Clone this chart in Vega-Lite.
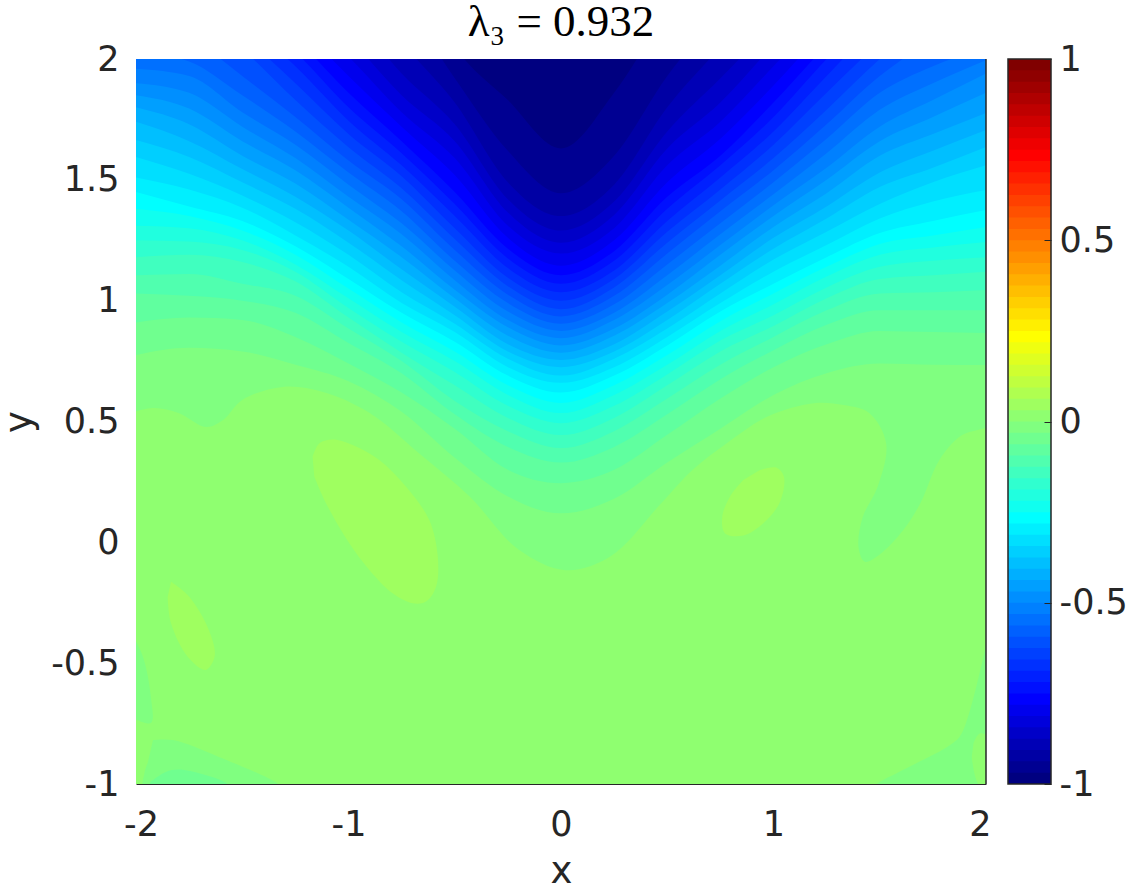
{"$schema":"https://vega.github.io/schema/vega-lite/v6.json","background":"white","padding":{"left":0,"top":0,"right":0,"bottom":0},"spacing":15,
"config":{"view":{"stroke":null},"axis":{"labelFont":"DejaVu Sans","labelFontSize":35,"labelColor":"#262626","titleFont":"DejaVu Sans","titleFontSize":37,"titleFontWeight":"normal","titleColor":"#262626","grid":false}},
"datasets":{
"polys":[
{"p":"base","r":33,"k":0,"x":-2.5,"y":-1.5},{"p":"base","r":33,"k":1,"x":2.5,"y":-1.5},{"p":"base","r":33,"k":2,"x":2.5,"y":2.5},{"p":"base","r":33,"k":3,"x":-2.5,"y":2.5},
{"p":"a","r":32,"k":0,"x":-2.05,"y":0.53},{"p":"a","r":32,"k":1,"x":-1.915,"y":0.556},{"p":"a","r":32,"k":2,"x":-1.8,"y":0.535},{"p":"a","r":32,"k":3,"x":-1.67,"y":0.477},{"p":"a","r":32,"k":4,"x":-1.59,"y":0.506},{"p":"a","r":32,"k":5,"x":-1.5,"y":0.589},{"p":"a","r":32,"k":6,"x":-1.31,"y":0.643},{"p":"a","r":32,"k":7,"x":-1.12,"y":0.622},{"p":"a","r":32,"k":8,"x":-0.9,"y":0.535},{"p":"a","r":32,"k":9,"x":-0.67,"y":0.37},{"p":"a","r":32,"k":10,"x":-0.43,"y":0.19},{"p":"a","r":32,"k":11,"x":-0.2,"y":-0.03},{"p":"a","r":32,"k":12,"x":0.02,"y":-0.115},{"p":"a","r":32,"k":13,"x":0.23,"y":-0.06},{"p":"a","r":32,"k":14,"x":0.47,"y":0.16},{"p":"a","r":32,"k":15,"x":0.62,"y":0.3},{"p":"a","r":32,"k":16,"x":0.78,"y":0.41},{"p":"a","r":32,"k":17,"x":0.97,"y":0.52},{"p":"a","r":32,"k":18,"x":1.19,"y":0.576},{"p":"a","r":32,"k":19,"x":1.33,"y":0.568},{"p":"a","r":32,"k":20,"x":1.45,"y":0.535},{"p":"a","r":32,"k":21,"x":1.53,"y":0.41},{"p":"a","r":32,"k":22,"x":1.49,"y":0.23},{"p":"a","r":32,"k":23,"x":1.42,"y":0.105},{"p":"a","r":32,"k":24,"x":1.4,"y":-0.02},{"p":"a","r":32,"k":25,"x":1.43,"y":-0.08},{"p":"a","r":32,"k":26,"x":1.5,"y":-0.05},{"p":"a","r":32,"k":27,"x":1.61,"y":0.05},{"p":"a","r":32,"k":28,"x":1.69,"y":0.16},{"p":"a","r":32,"k":29,"x":1.78,"y":0.34},{"p":"a","r":32,"k":30,"x":1.88,"y":0.44},{"p":"a","r":32,"k":31,"x":2.05,"y":0.51},{"p":"a","r":32,"k":32,"x":2.05,"y":1.2},{"p":"a","r":32,"k":33,"x":-2.05,"y":1.2},
{"p":"ls","r":32,"k":0,"x":-2.03,"y":-0.36},{"p":"ls","r":32,"k":1,"x":-1.967,"y":-0.474},{"p":"ls","r":32,"k":2,"x":-1.93,"y":-0.64},{"p":"ls","r":32,"k":3,"x":-1.93,"y":-0.748},{"p":"ls","r":32,"k":4,"x":-2.03,"y":-0.72},
{"p":"bl","r":32,"k":0,"x":-1.92,"y":-0.818},{"p":"bl","r":32,"k":1,"x":-1.826,"y":-0.818},{"p":"bl","r":32,"k":2,"x":-1.61,"y":-0.888},{"p":"bl","r":32,"k":3,"x":-1.33,"y":-1.0},{"p":"bl","r":32,"k":4,"x":-1.3,"y":-1.03},{"p":"bl","r":32,"k":5,"x":-1.96,"y":-1.03},{"p":"bl","r":32,"k":6,"x":-1.96,"y":-0.954},{"p":"bl","r":32,"k":7,"x":-1.945,"y":-0.913},
{"p":"br","r":32,"k":0,"x":2.03,"y":-0.3},{"p":"br","r":32,"k":1,"x":1.886,"y":-0.79},{"p":"br","r":32,"k":2,"x":1.831,"y":-0.839},{"p":"br","r":32,"k":3,"x":1.642,"y":-0.928},{"p":"br","r":32,"k":4,"x":1.486,"y":-1.0},{"p":"br","r":32,"k":5,"x":1.45,"y":-1.03},{"p":"br","r":32,"k":6,"x":2.03,"y":-1.03},
{"p":"bs","r":33,"k":0,"x":1.941,"y":-0.832},{"p":"bs","r":33,"k":1,"x":1.972,"y":-0.79},{"p":"bs","r":33,"k":2,"x":2.03,"y":-0.82},{"p":"bs","r":33,"k":3,"x":2.03,"y":-1.03},{"p":"bs","r":33,"k":4,"x":1.964,"y":-1.0},{"p":"bs","r":33,"k":5,"x":1.933,"y":-0.887},
{"p":"bp","r":31,"k":0,"x":-1.93,"y":-0.99},{"p":"bp","r":31,"k":1,"x":-1.86,"y":-0.95},{"p":"bp","r":31,"k":2,"x":-1.8,"y":-0.94},{"p":"bp","r":31,"k":3,"x":-1.685,"y":-0.96},{"p":"bp","r":31,"k":4,"x":-1.57,"y":-1.0},{"p":"bp","r":31,"k":5,"x":-1.55,"y":-1.03},{"p":"bp","r":31,"k":6,"x":-1.95,"y":-1.03},
{"p":"i1","r":34,"k":0,"x":-1.169,"y":0.354},{"p":"i1","r":34,"k":1,"x":-1.137,"y":0.41},{"p":"i1","r":34,"k":2,"x":-1.074,"y":0.426},{"p":"i1","r":34,"k":3,"x":-0.98,"y":0.403},{"p":"i1","r":34,"k":4,"x":-0.855,"y":0.341},{"p":"i1","r":34,"k":5,"x":-0.729,"y":0.23},{"p":"i1","r":34,"k":6,"x":-0.62,"y":0.092},{"p":"i1","r":34,"k":7,"x":-0.58,"y":-0.059},{"p":"i1","r":34,"k":8,"x":-0.588,"y":-0.184},{"p":"i1","r":34,"k":9,"x":-0.635,"y":-0.245},{"p":"i1","r":34,"k":10,"x":-0.698,"y":-0.252},{"p":"i1","r":34,"k":11,"x":-0.792,"y":-0.211},{"p":"i1","r":34,"k":12,"x":-0.902,"y":-0.114},{"p":"i1","r":34,"k":13,"x":-0.996,"y":-0.004},{"p":"i1","r":34,"k":14,"x":-1.106,"y":0.162},{"p":"i1","r":34,"k":15,"x":-1.161,"y":0.272},
{"p":"i2","r":34,"k":0,"x":-1.835,"y":-0.163},{"p":"i2","r":34,"k":1,"x":-1.757,"y":-0.218},{"p":"i2","r":34,"k":2,"x":-1.679,"y":-0.321},{"p":"i2","r":34,"k":3,"x":-1.632,"y":-0.432},{"p":"i2","r":34,"k":4,"x":-1.632,"y":-0.48},{"p":"i2","r":34,"k":5,"x":-1.671,"y":-0.528},{"p":"i2","r":34,"k":6,"x":-1.757,"y":-0.473},{"p":"i2","r":34,"k":7,"x":-1.835,"y":-0.335},{"p":"i2","r":34,"k":8,"x":-1.851,"y":-0.225},
{"p":"i3","r":34,"k":0,"x":0.936,"y":0.299},{"p":"i3","r":34,"k":1,"x":1.015,"y":0.309},{"p":"i3","r":34,"k":2,"x":1.049,"y":0.272},{"p":"i3","r":34,"k":3,"x":1.031,"y":0.168},{"p":"i3","r":34,"k":4,"x":0.952,"y":0.079},{"p":"i3","r":34,"k":5,"x":0.858,"y":0.028},{"p":"i3","r":34,"k":6,"x":0.772,"y":0.037},{"p":"i3","r":34,"k":7,"x":0.759,"y":0.106},{"p":"i3","r":34,"k":8,"x":0.795,"y":0.189},{"p":"i3","r":34,"k":9,"x":0.858,"y":0.258}
],
"levels":[
{"r":31,"x":-2,"y":0.775},{"r":31,"x":-1.75,"y":0.805},{"r":31,"x":-1.5,"y":0.79},{"r":31,"x":-1.25,"y":0.735},{"r":31,"x":-1,"y":0.667},{"r":31,"x":-0.75,"y":0.54},{"r":31,"x":-0.5,"y":0.35},{"r":31,"x":-0.25,"y":0.19},{"r":31,"x":0,"y":0.12},{"r":31,"x":0.25,"y":0.18},{"r":31,"x":0.5,"y":0.33},{"r":31,"x":0.75,"y":0.47},{"r":31,"x":1,"y":0.61},{"r":31,"x":1.25,"y":0.7},{"r":31,"x":1.5,"y":0.74},{"r":31,"x":1.75,"y":0.735},{"r":31,"x":2,"y":0.734},
{"r":30,"x":-2,"y":0.91},{"r":30,"x":-1.75,"y":0.93},{"r":30,"x":-1.5,"y":0.92},{"r":30,"x":-1.25,"y":0.85},{"r":30,"x":-1,"y":0.74},{"r":30,"x":-0.75,"y":0.62},{"r":30,"x":-0.5,"y":0.47},{"r":30,"x":-0.25,"y":0.3},{"r":30,"x":0,"y":0.245},{"r":30,"x":0.25,"y":0.3},{"r":30,"x":0.5,"y":0.445},{"r":30,"x":0.75,"y":0.595},{"r":30,"x":1,"y":0.725},{"r":30,"x":1.25,"y":0.82},{"r":30,"x":1.5,"y":0.875},{"r":30,"x":1.75,"y":0.87},{"r":30,"x":2,"y":0.866},
{"r":29,"x":-2,"y":1.03},{"r":29,"x":-1.75,"y":1.02},{"r":29,"x":-1.5,"y":1.0},{"r":29,"x":-1.25,"y":0.95},{"r":29,"x":-1,"y":0.825},{"r":29,"x":-0.75,"y":0.7},{"r":29,"x":-0.5,"y":0.53},{"r":29,"x":-0.25,"y":0.395},{"r":29,"x":0,"y":0.33},{"r":29,"x":0.25,"y":0.395},{"r":29,"x":0.5,"y":0.53},{"r":29,"x":0.75,"y":0.675},{"r":29,"x":1,"y":0.795},{"r":29,"x":1.25,"y":0.9},{"r":29,"x":1.5,"y":0.96},{"r":29,"x":1.75,"y":0.96},{"r":29,"x":2,"y":0.96},
{"r":28,"x":-2,"y":1.105},{"r":28,"x":-1.75,"y":1.11},{"r":28,"x":-1.5,"y":1.07},{"r":28,"x":-1.25,"y":1.02},{"r":28,"x":-1,"y":0.885},{"r":28,"x":-0.75,"y":0.75},{"r":28,"x":-0.5,"y":0.585},{"r":28,"x":-0.25,"y":0.46},{"r":28,"x":0,"y":0.39},{"r":28,"x":0.25,"y":0.46},{"r":28,"x":0.5,"y":0.595},{"r":28,"x":0.75,"y":0.735},{"r":28,"x":1,"y":0.85},{"r":28,"x":1.25,"y":0.96},{"r":28,"x":1.5,"y":1.03},{"r":28,"x":1.75,"y":1.035},{"r":28,"x":2,"y":1.044},
{"r":27,"x":-2,"y":1.18},{"r":27,"x":-1.75,"y":1.19},{"r":27,"x":-1.5,"y":1.16},{"r":27,"x":-1.25,"y":1.08},{"r":27,"x":-1,"y":0.93},{"r":27,"x":-0.75,"y":0.785},{"r":27,"x":-0.5,"y":0.65},{"r":27,"x":-0.25,"y":0.515},{"r":27,"x":0,"y":0.444},{"r":27,"x":0.25,"y":0.515},{"r":27,"x":0.5,"y":0.65},{"r":27,"x":0.75,"y":0.79},{"r":27,"x":1,"y":0.895},{"r":27,"x":1.25,"y":1.01},{"r":27,"x":1.5,"y":1.09},{"r":27,"x":1.75,"y":1.105},{"r":27,"x":2,"y":1.12},
{"r":26,"x":-2,"y":1.25},{"r":26,"x":-1.75,"y":1.245},{"r":26,"x":-1.5,"y":1.21},{"r":26,"x":-1.25,"y":1.12},{"r":26,"x":-1,"y":0.97},{"r":26,"x":-0.75,"y":0.83},{"r":26,"x":-0.5,"y":0.705},{"r":26,"x":-0.25,"y":0.565},{"r":26,"x":0,"y":0.493},{"r":26,"x":0.25,"y":0.565},{"r":26,"x":0.5,"y":0.695},{"r":26,"x":0.75,"y":0.835},{"r":26,"x":1,"y":0.94},{"r":26,"x":1.25,"y":1.055},{"r":26,"x":1.5,"y":1.14},{"r":26,"x":1.75,"y":1.165},{"r":26,"x":2,"y":1.18},
{"r":25,"x":-2,"y":1.31},{"r":25,"x":-1.75,"y":1.3},{"r":25,"x":-1.5,"y":1.25},{"r":25,"x":-1.25,"y":1.15},{"r":25,"x":-1,"y":1.01},{"r":25,"x":-0.75,"y":0.87},{"r":25,"x":-0.5,"y":0.75},{"r":25,"x":-0.25,"y":0.61},{"r":25,"x":0,"y":0.535},{"r":25,"x":0.25,"y":0.61},{"r":25,"x":0.5,"y":0.735},{"r":25,"x":0.75,"y":0.875},{"r":25,"x":1,"y":0.985},{"r":25,"x":1.25,"y":1.1},{"r":25,"x":1.5,"y":1.19},{"r":25,"x":1.75,"y":1.22},{"r":25,"x":2,"y":1.243},
{"r":24,"x":-2,"y":1.38},{"r":24,"x":-1.75,"y":1.35},{"r":24,"x":-1.5,"y":1.29},{"r":24,"x":-1.25,"y":1.19},{"r":24,"x":-1,"y":1.05},{"r":24,"x":-0.75,"y":0.91},{"r":24,"x":-0.5,"y":0.79},{"r":24,"x":-0.25,"y":0.65},{"r":24,"x":0,"y":0.577},{"r":24,"x":0.25,"y":0.65},{"r":24,"x":0.5,"y":0.775},{"r":24,"x":0.75,"y":0.915},{"r":24,"x":1,"y":1.03},{"r":24,"x":1.25,"y":1.14},{"r":24,"x":1.5,"y":1.235},{"r":24,"x":1.75,"y":1.27},{"r":24,"x":2,"y":1.305},
{"r":23,"x":-2,"y":1.45},{"r":23,"x":-1.75,"y":1.39},{"r":23,"x":-1.5,"y":1.33},{"r":23,"x":-1.25,"y":1.225},{"r":23,"x":-1,"y":1.09},{"r":23,"x":-0.75,"y":0.95},{"r":23,"x":-0.5,"y":0.83},{"r":23,"x":-0.25,"y":0.69},{"r":23,"x":0,"y":0.62},{"r":23,"x":0.25,"y":0.69},{"r":23,"x":0.5,"y":0.815},{"r":23,"x":0.75,"y":0.955},{"r":23,"x":1,"y":1.07},{"r":23,"x":1.25,"y":1.18},{"r":23,"x":1.5,"y":1.28},{"r":23,"x":1.75,"y":1.33},{"r":23,"x":2,"y":1.375},
{"r":22,"x":-2,"y":1.51},{"r":22,"x":-1.75,"y":1.46},{"r":22,"x":-1.5,"y":1.385},{"r":22,"x":-1.25,"y":1.27},{"r":22,"x":-1,"y":1.14},{"r":22,"x":-0.75,"y":0.99},{"r":22,"x":-0.5,"y":0.87},{"r":22,"x":-0.25,"y":0.725},{"r":22,"x":0,"y":0.66},{"r":22,"x":0.25,"y":0.725},{"r":22,"x":0.5,"y":0.85},{"r":22,"x":0.75,"y":0.99},{"r":22,"x":1,"y":1.12},{"r":22,"x":1.25,"y":1.23},{"r":22,"x":1.5,"y":1.34},{"r":22,"x":1.75,"y":1.41},{"r":22,"x":2,"y":1.458},
{"r":21,"x":-2,"y":1.595},{"r":21,"x":-1.75,"y":1.525},{"r":21,"x":-1.5,"y":1.435},{"r":21,"x":-1.25,"y":1.325},{"r":21,"x":-1,"y":1.19},{"r":21,"x":-0.75,"y":1.035},{"r":21,"x":-0.5,"y":0.905},{"r":21,"x":-0.25,"y":0.76},{"r":21,"x":0,"y":0.69},{"r":21,"x":0.25,"y":0.76},{"r":21,"x":0.5,"y":0.885},{"r":21,"x":0.75,"y":1.03},{"r":21,"x":1,"y":1.17},{"r":21,"x":1.25,"y":1.285},{"r":21,"x":1.5,"y":1.4},{"r":21,"x":1.75,"y":1.49},{"r":21,"x":2,"y":1.56},
{"r":20,"x":-2,"y":1.665},{"r":20,"x":-1.75,"y":1.595},{"r":20,"x":-1.5,"y":1.49},{"r":20,"x":-1.25,"y":1.38},{"r":20,"x":-1,"y":1.24},{"r":20,"x":-0.75,"y":1.085},{"r":20,"x":-0.5,"y":0.94},{"r":20,"x":-0.25,"y":0.79},{"r":20,"x":0,"y":0.725},{"r":20,"x":0.25,"y":0.79},{"r":20,"x":0.5,"y":0.92},{"r":20,"x":0.75,"y":1.07},{"r":20,"x":1,"y":1.215},{"r":20,"x":1.25,"y":1.34},{"r":20,"x":1.5,"y":1.47},{"r":20,"x":1.75,"y":1.55},{"r":20,"x":2,"y":1.636},
{"r":19,"x":-2,"y":1.74},{"r":19,"x":-1.75,"y":1.66},{"r":19,"x":-1.5,"y":1.545},{"r":19,"x":-1.25,"y":1.43},{"r":19,"x":-1,"y":1.29},{"r":19,"x":-0.75,"y":1.13},{"r":19,"x":-0.5,"y":0.975},{"r":19,"x":-0.25,"y":0.82},{"r":19,"x":0,"y":0.755},{"r":19,"x":0.25,"y":0.82},{"r":19,"x":0.5,"y":0.955},{"r":19,"x":0.75,"y":1.105},{"r":19,"x":1,"y":1.26},{"r":19,"x":1.25,"y":1.39},{"r":19,"x":1.5,"y":1.53},{"r":19,"x":1.75,"y":1.62},{"r":19,"x":2,"y":1.706},
{"r":18,"x":-2,"y":1.8},{"r":18,"x":-1.75,"y":1.73},{"r":18,"x":-1.5,"y":1.6},{"r":18,"x":-1.25,"y":1.485},{"r":18,"x":-1,"y":1.335},{"r":18,"x":-0.75,"y":1.18},{"r":18,"x":-0.5,"y":1.01},{"r":18,"x":-0.25,"y":0.855},{"r":18,"x":0,"y":0.785},{"r":18,"x":0.25,"y":0.855},{"r":18,"x":0.5,"y":0.99},{"r":18,"x":0.75,"y":1.145},{"r":18,"x":1,"y":1.305},{"r":18,"x":1.25,"y":1.445},{"r":18,"x":1.5,"y":1.6},{"r":18,"x":1.75,"y":1.69},{"r":18,"x":2,"y":1.777},
{"r":17,"x":-2,"y":1.85},{"r":17,"x":-1.75,"y":1.795},{"r":17,"x":-1.5,"y":1.66},{"r":17,"x":-1.25,"y":1.54},{"r":17,"x":-1,"y":1.385},{"r":17,"x":-0.75,"y":1.225},{"r":17,"x":-0.5,"y":1.045},{"r":17,"x":-0.25,"y":0.89},{"r":17,"x":0,"y":0.815},{"r":17,"x":0.25,"y":0.885},{"r":17,"x":0.5,"y":1.025},{"r":17,"x":0.75,"y":1.19},{"r":17,"x":1,"y":1.35},{"r":17,"x":1.25,"y":1.5},{"r":17,"x":1.5,"y":1.66},{"r":17,"x":1.75,"y":1.76},{"r":17,"x":2,"y":1.86},
{"r":16,"x":-2,"y":1.9},{"r":16,"x":-1.75,"y":1.86},{"r":16,"x":-1.5,"y":1.72},{"r":16,"x":-1.25,"y":1.59},{"r":16,"x":-1,"y":1.43},{"r":16,"x":-0.75,"y":1.275},{"r":16,"x":-0.5,"y":1.085},{"r":16,"x":-0.25,"y":0.92},{"r":16,"x":0,"y":0.845},{"r":16,"x":0.25,"y":0.92},{"r":16,"x":0.5,"y":1.065},{"r":16,"x":0.75,"y":1.23},{"r":16,"x":1,"y":1.395},{"r":16,"x":1.25,"y":1.55},{"r":16,"x":1.5,"y":1.72},{"r":16,"x":1.75,"y":1.83},{"r":16,"x":2,"y":1.94},
{"r":15,"x":-2,"y":1.96},{"r":15,"x":-1.75,"y":1.93},{"r":15,"x":-1.5,"y":1.78},{"r":15,"x":-1.25,"y":1.645},{"r":15,"x":-1,"y":1.48},{"r":15,"x":-0.75,"y":1.32},{"r":15,"x":-0.5,"y":1.125},{"r":15,"x":-0.25,"y":0.955},{"r":15,"x":0,"y":0.875},{"r":15,"x":0.25,"y":0.95},{"r":15,"x":0.5,"y":1.105},{"r":15,"x":0.75,"y":1.275},{"r":15,"x":1,"y":1.44},{"r":15,"x":1.25,"y":1.61},{"r":15,"x":1.5,"y":1.79},{"r":15,"x":1.75,"y":1.9},{"r":15,"x":2,"y":1.995},
{"r":14,"x":-2,"y":2.03},{"r":14,"x":-1.75,"y":1.99},{"r":14,"x":-1.5,"y":1.85},{"r":14,"x":-1.25,"y":1.7},{"r":14,"x":-1,"y":1.53},{"r":14,"x":-0.75,"y":1.37},{"r":14,"x":-0.5,"y":1.165},{"r":14,"x":-0.25,"y":0.99},{"r":14,"x":0,"y":0.905},{"r":14,"x":0.25,"y":0.985},{"r":14,"x":0.5,"y":1.15},{"r":14,"x":0.75,"y":1.32},{"r":14,"x":1,"y":1.49},{"r":14,"x":1.25,"y":1.67},{"r":14,"x":1.5,"y":1.86},{"r":14,"x":1.75,"y":1.97},{"r":14,"x":2,"y":2.05},
{"r":13,"x":-2,"y":2.25},{"r":13,"x":-1.75,"y":2.1},{"r":13,"x":-1.5,"y":1.93},{"r":13,"x":-1.25,"y":1.76},{"r":13,"x":-1,"y":1.58},{"r":13,"x":-0.75,"y":1.42},{"r":13,"x":-0.5,"y":1.21},{"r":13,"x":-0.25,"y":1.025},{"r":13,"x":0,"y":0.935},{"r":13,"x":0.25,"y":1.02},{"r":13,"x":0.5,"y":1.195},{"r":13,"x":0.75,"y":1.37},{"r":13,"x":1,"y":1.54},{"r":13,"x":1.25,"y":1.73},{"r":13,"x":1.5,"y":1.93},{"r":13,"x":1.75,"y":2.08},{"r":13,"x":2,"y":2.2},
{"r":12,"x":-2,"y":2.4},{"r":12,"x":-1.75,"y":2.2},{"r":12,"x":-1.5,"y":2.04},{"r":12,"x":-1.25,"y":1.83},{"r":12,"x":-1,"y":1.635},{"r":12,"x":-0.75,"y":1.465},{"r":12,"x":-0.5,"y":1.255},{"r":12,"x":-0.25,"y":1.06},{"r":12,"x":0,"y":0.965},{"r":12,"x":0.25,"y":1.055},{"r":12,"x":0.5,"y":1.24},{"r":12,"x":0.75,"y":1.415},{"r":12,"x":1,"y":1.59},{"r":12,"x":1.25,"y":1.79},{"r":12,"x":1.5,"y":2.0},{"r":12,"x":1.75,"y":2.18},{"r":12,"x":2,"y":2.35},
{"r":11,"x":-1.75,"y":2.28},{"r":11,"x":-1.5,"y":2.1},{"r":11,"x":-1.25,"y":1.9},{"r":11,"x":-1,"y":1.69},{"r":11,"x":-0.75,"y":1.515},{"r":11,"x":-0.5,"y":1.3},{"r":11,"x":-0.25,"y":1.095},{"r":11,"x":0,"y":1.0},{"r":11,"x":0.25,"y":1.09},{"r":11,"x":0.5,"y":1.285},{"r":11,"x":0.75,"y":1.46},{"r":11,"x":1,"y":1.645},{"r":11,"x":1.25,"y":1.86},{"r":11,"x":1.5,"y":2.07},{"r":11,"x":1.75,"y":2.25},
{"r":10,"x":-1.75,"y":2.35},{"r":10,"x":-1.5,"y":2.16},{"r":10,"x":-1.25,"y":1.97},{"r":10,"x":-1,"y":1.745},{"r":10,"x":-0.75,"y":1.56},{"r":10,"x":-0.5,"y":1.35},{"r":10,"x":-0.25,"y":1.135},{"r":10,"x":0,"y":1.035},{"r":10,"x":0.25,"y":1.125},{"r":10,"x":0.5,"y":1.33},{"r":10,"x":0.75,"y":1.51},{"r":10,"x":1,"y":1.7},{"r":10,"x":1.25,"y":1.93},{"r":10,"x":1.5,"y":2.15},{"r":10,"x":1.75,"y":2.3},
{"r":9,"x":-1.5,"y":2.22},{"r":9,"x":-1.25,"y":2.03},{"r":9,"x":-1,"y":1.8},{"r":9,"x":-0.75,"y":1.61},{"r":9,"x":-0.5,"y":1.4},{"r":9,"x":-0.25,"y":1.175},{"r":9,"x":0,"y":1.07},{"r":9,"x":0.25,"y":1.165},{"r":9,"x":0.5,"y":1.38},{"r":9,"x":0.75,"y":1.56},{"r":9,"x":1,"y":1.76},{"r":9,"x":1.25,"y":2.0},{"r":9,"x":1.5,"y":2.22},
{"r":8,"x":-1.5,"y":2.3},{"r":8,"x":-1.25,"y":2.09},{"r":8,"x":-1,"y":1.86},{"r":8,"x":-0.75,"y":1.66},{"r":8,"x":-0.5,"y":1.45},{"r":8,"x":-0.25,"y":1.215},{"r":8,"x":0,"y":1.105},{"r":8,"x":0.25,"y":1.205},{"r":8,"x":0.5,"y":1.43},{"r":8,"x":0.75,"y":1.6},{"r":8,"x":1,"y":1.82},{"r":8,"x":1.25,"y":2.06},{"r":8,"x":1.5,"y":2.3},
{"r":7,"x":-1.5,"y":2.35},{"r":7,"x":-1.25,"y":2.15},{"r":7,"x":-1,"y":1.93},{"r":7,"x":-0.75,"y":1.72},{"r":7,"x":-0.5,"y":1.52},{"r":7,"x":-0.25,"y":1.26},{"r":7,"x":0,"y":1.145},{"r":7,"x":0.25,"y":1.25},{"r":7,"x":0.5,"y":1.49},{"r":7,"x":0.75,"y":1.67},{"r":7,"x":1,"y":1.89},{"r":7,"x":1.25,"y":2.13},{"r":7,"x":1.5,"y":2.35},
{"r":6,"x":-1.25,"y":2.22},{"r":6,"x":-1,"y":2.01},{"r":6,"x":-0.75,"y":1.78},{"r":6,"x":-0.5,"y":1.59},{"r":6,"x":-0.25,"y":1.31},{"r":6,"x":0,"y":1.195},{"r":6,"x":0.25,"y":1.3},{"r":6,"x":0.5,"y":1.56},{"r":6,"x":0.75,"y":1.74},{"r":6,"x":1,"y":1.97},{"r":6,"x":1.25,"y":2.2},
{"r":5,"x":-1.25,"y":2.3},{"r":5,"x":-1,"y":2.09},{"r":5,"x":-0.75,"y":1.85},{"r":5,"x":-0.5,"y":1.66},{"r":5,"x":-0.25,"y":1.365},{"r":5,"x":0,"y":1.24},{"r":5,"x":0.25,"y":1.355},{"r":5,"x":0.5,"y":1.63},{"r":5,"x":0.75,"y":1.82},{"r":5,"x":1,"y":2.06},{"r":5,"x":1.25,"y":2.3},
{"r":4,"x":-1.25,"y":2.4},{"r":4,"x":-1,"y":2.2},{"r":4,"x":-0.75,"y":1.94},{"r":4,"x":-0.5,"y":1.73},{"r":4,"x":-0.25,"y":1.42},{"r":4,"x":0,"y":1.29},{"r":4,"x":0.25,"y":1.41},{"r":4,"x":0.5,"y":1.7},{"r":4,"x":0.75,"y":1.92},{"r":4,"x":1,"y":2.15},{"r":4,"x":1.25,"y":2.4},
{"r":3,"x":-1,"y":2.35},{"r":3,"x":-0.75,"y":2.07},{"r":3,"x":-0.5,"y":1.82},{"r":3,"x":-0.25,"y":1.49},{"r":3,"x":0,"y":1.35},{"r":3,"x":0.25,"y":1.48},{"r":3,"x":0.5,"y":1.8},{"r":3,"x":0.75,"y":2.05},{"r":3,"x":1,"y":2.3},
{"r":2,"x":-1,"y":2.5},{"r":2,"x":-0.75,"y":2.25},{"r":2,"x":-0.5,"y":1.92},{"r":2,"x":-0.25,"y":1.62},{"r":2,"x":0,"y":1.445},{"r":2,"x":0.25,"y":1.6},{"r":2,"x":0.5,"y":1.93},{"r":2,"x":0.75,"y":2.2},{"r":2,"x":1,"y":2.5},
{"r":1,"x":-0.75,"y":2.45},{"r":1,"x":-0.5,"y":2.05},{"r":1,"x":-0.25,"y":1.83},{"r":1,"x":0,"y":1.63},{"r":1,"x":0.25,"y":1.86},{"r":1,"x":0.5,"y":2.2},{"r":1,"x":0.75,"y":2.5}
],
"bar":[{"r":1,"lo":-1},{"r":2,"lo":-0.96875},{"r":3,"lo":-0.9375},{"r":4,"lo":-0.90625},{"r":5,"lo":-0.875},{"r":6,"lo":-0.84375},{"r":7,"lo":-0.8125},{"r":8,"lo":-0.78125},{"r":9,"lo":-0.75},{"r":10,"lo":-0.71875},{"r":11,"lo":-0.6875},{"r":12,"lo":-0.65625},{"r":13,"lo":-0.625},{"r":14,"lo":-0.59375},{"r":15,"lo":-0.5625},{"r":16,"lo":-0.53125},{"r":17,"lo":-0.5},{"r":18,"lo":-0.46875},{"r":19,"lo":-0.4375},{"r":20,"lo":-0.40625},{"r":21,"lo":-0.375},{"r":22,"lo":-0.34375},{"r":23,"lo":-0.3125},{"r":24,"lo":-0.28125},{"r":25,"lo":-0.25},{"r":26,"lo":-0.21875},{"r":27,"lo":-0.1875},{"r":28,"lo":-0.15625},{"r":29,"lo":-0.125},{"r":30,"lo":-0.09375},{"r":31,"lo":-0.0625},{"r":32,"lo":-0.03125},{"r":33,"lo":0},{"r":34,"lo":0.03125},{"r":35,"lo":0.0625},{"r":36,"lo":0.09375},{"r":37,"lo":0.125},{"r":38,"lo":0.15625},{"r":39,"lo":0.1875},{"r":40,"lo":0.21875},{"r":41,"lo":0.25},{"r":42,"lo":0.28125},{"r":43,"lo":0.3125},{"r":44,"lo":0.34375},{"r":45,"lo":0.375},{"r":46,"lo":0.40625},{"r":47,"lo":0.4375},{"r":48,"lo":0.46875},{"r":49,"lo":0.5},{"r":50,"lo":0.53125},{"r":51,"lo":0.5625},{"r":52,"lo":0.59375},{"r":53,"lo":0.625},{"r":54,"lo":0.65625},{"r":55,"lo":0.6875},{"r":56,"lo":0.71875},{"r":57,"lo":0.75},{"r":58,"lo":0.78125},{"r":59,"lo":0.8125},{"r":60,"lo":0.84375},{"r":61,"lo":0.875},{"r":62,"lo":0.90625},{"r":63,"lo":0.9375},{"r":64,"lo":0.96875}],
"frame":[{"lo":-1,"hi":1}],
"edge":[{"x":2}]
},
"hconcat":[
{"width":850,"height":725,
"title":{"text":"λ₃ = 0.932","font":"Liberation Serif","fontSize":45,"fontWeight":"normal","color":"#000000","anchor":"middle","offset":-3},
"encoding":{
"x":{"field":"x","type":"quantitative","scale":{"domain":[-2,2],"nice":false,"zero":false},"axis":{"values":[-2,-1,0,1,2],"tickSize":0,"labelPadding":23,"labelFlush":false,"labelExpr":"''+datum.value","labelOffset":{"condition":[{"test":"datum.value==-2","value":5},{"test":"datum.value==2","value":-6}],"value":0},"title":"x","titlePadding":11,"domainColor":"#262626","zindex":1}},
"y":{"field":"y","type":"quantitative","scale":{"domain":[-1,2],"nice":false,"zero":false},"axis":{"values":[-1,-0.5,0,0.5,1,1.5,2],"tickSize":0,"domain":false,"labelFlush":false,"labelPadding":17,"labelExpr":"''+datum.value","title":"y","titlePadding":12}}
},
"layer":[
{"data":{"name":"polys"},"mark":{"type":"line","interpolate":"catmull-rom","clip":true,"strokeWidth":0},
"encoding":{"detail":{"field":"p"},"order":{"field":"k"},
"fill":{"field":"r","type":"quantitative","legend":null,"scale":{"type":"quantize","domain":[0.5,64.5],"range":["#000080","#000092","#0000A4","#0000B6","#0000C8","#0000DB","#0000ED","#0000FF","#0010FF","#0020FF","#0030FF","#0040FF","#0050FF","#0060FF","#0070FF","#0080FF","#008FFF","#009FFF","#00AFFF","#00BFFF","#00CFFF","#00DFFF","#00EFFF","#00FFFF","#10FFEF","#20FFDF","#30FFCF","#40FFBF","#50FFAF","#60FF9F","#70FF8F","#80FF80","#8FFF70","#9FFF60","#AFFF50","#BFFF40","#CFFF30","#DFFF20","#EFFF10","#FFFF00","#FFEF00","#FFDF00","#FFCF00","#FFBF00","#FFAF00","#FF9F00","#FF8F00","#FF8000","#FF7000","#FF6000","#FF5000","#FF4000","#FF3000","#FF2000","#FF1000","#FF0000","#EF0000","#DF0000","#CF0000","#BF0000","#AF0000","#9F0000","#8F0000","#800000"]}}}},
{"data":{"name":"levels"},"mark":{"type":"area","interpolate":"monotone","clip":true},
"encoding":{"detail":{"field":"r"},"y2":{"datum":3.5},
"fill":{"field":"r","type":"quantitative","legend":null,"scale":{"type":"quantize","domain":[0.5,64.5],"range":["#000080","#000092","#0000A4","#0000B6","#0000C8","#0000DB","#0000ED","#0000FF","#0010FF","#0020FF","#0030FF","#0040FF","#0050FF","#0060FF","#0070FF","#0080FF","#008FFF","#009FFF","#00AFFF","#00BFFF","#00CFFF","#00DFFF","#00EFFF","#00FFFF","#10FFEF","#20FFDF","#30FFCF","#40FFBF","#50FFAF","#60FF9F","#70FF8F","#80FF80","#8FFF70","#9FFF60","#AFFF50","#BFFF40","#CFFF30","#DFFF20","#EFFF10","#FFFF00","#FFEF00","#FFDF00","#FFCF00","#FFBF00","#FFAF00","#FF9F00","#FF8F00","#FF8000","#FF7000","#FF6000","#FF5000","#FF4000","#FF3000","#FF2000","#FF1000","#FF0000","#EF0000","#DF0000","#CF0000","#BF0000","#AF0000","#9F0000","#8F0000","#800000"]}}}},
{"data":{"name":"edge"},"mark":{"type":"rule","color":"#262626","strokeWidth":1.5},"encoding":{"x":{"field":"x","type":"quantitative"},"y":null}}
]},
{"width":43,"height":725,
"encoding":{"y":{"field":"lo","type":"quantitative","scale":{"domain":[-1,1],"nice":false,"zero":false},"axis":{"orient":"right","values":[-1,-0.5,0,0.5,1],"tickSize":-7,"tickColor":"#262626","labelFlush":false,"labelPadding":15,"labelExpr":"''+datum.value","title":null,"domain":false,"zindex":1}}},
"layer":[
{"data":{"name":"bar"},"mark":{"type":"rect"},
"encoding":{"y2":{"datum":1},
"fill":{"field":"r","type":"quantitative","legend":null,"scale":{"type":"quantize","domain":[0.5,64.5],"range":["#000080","#000092","#0000A4","#0000B6","#0000C8","#0000DB","#0000ED","#0000FF","#0010FF","#0020FF","#0030FF","#0040FF","#0050FF","#0060FF","#0070FF","#0080FF","#008FFF","#009FFF","#00AFFF","#00BFFF","#00CFFF","#00DFFF","#00EFFF","#00FFFF","#10FFEF","#20FFDF","#30FFCF","#40FFBF","#50FFAF","#60FF9F","#70FF8F","#80FF80","#8FFF70","#9FFF60","#AFFF50","#BFFF40","#CFFF30","#DFFF20","#EFFF10","#FFFF00","#FFEF00","#FFDF00","#FFCF00","#FFBF00","#FFAF00","#FF9F00","#FF8F00","#FF8000","#FF7000","#FF6000","#FF5000","#FF4000","#FF3000","#FF2000","#FF1000","#FF0000","#EF0000","#DF0000","#CF0000","#BF0000","#AF0000","#9F0000","#8F0000","#800000"]}}}},
{"data":{"name":"frame"},"mark":{"type":"rect","fillOpacity":0,"stroke":"#262626","strokeWidth":1.5},"encoding":{"y2":{"field":"hi"}}}
]}
]}
